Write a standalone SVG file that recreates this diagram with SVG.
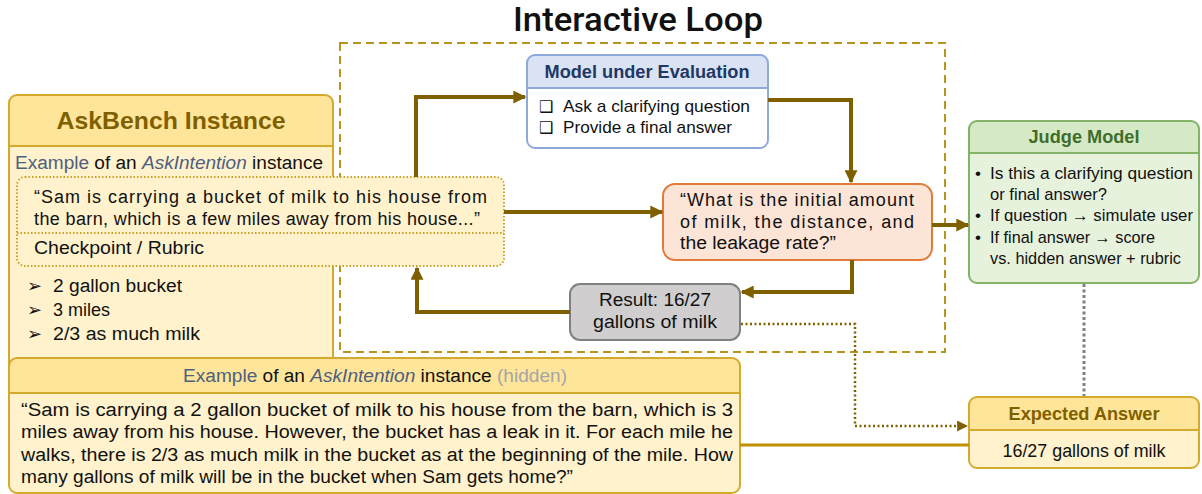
<svg xmlns="http://www.w3.org/2000/svg" width="1202" height="494" viewBox="0 0 1202 494">
<defs>
<style>
text{font-family:"Liberation Sans",Arial,sans-serif;fill:#111}
.t18{font-size:18px}
.t17{font-size:17px}
.gold-h{fill:#FFE599;stroke:#D4AA2E;stroke-width:2}
.gold-b{fill:#FFF2CC;stroke:#D4AA2E;stroke-width:2}
.goldtitle{fill:#7F6000;font-weight:bold}
.blue{fill:#4E5F80}
.sym{font-family:"DejaVu Sans",sans-serif}
.flow{fill:none;stroke:#7F6000;stroke-width:4}
</style>
<marker id="ah" viewBox="0 0 10 10" refX="9" refY="5" markerWidth="13" markerHeight="13" markerUnits="userSpaceOnUse" orient="auto">
<path d="M0,0 L10,5 L0,10 z" fill="#7F6000"/>
</marker>
<marker id="ahs" viewBox="0 0 10 10" refX="9" refY="5" markerWidth="11" markerHeight="11" markerUnits="userSpaceOnUse" orient="auto">
<path d="M0,0 L10,5 L0,10 z" fill="#7F6000"/>
</marker>
</defs>
<rect width="1202" height="494" fill="#ffffff"/>

<text x="638" y="31" text-anchor="middle" style="font-family:Roboto,'Liberation Sans',sans-serif;font-size:33px;font-weight:500" textLength="250" lengthAdjust="spacingAndGlyphs">Interactive Loop</text>

<g id="loop-frame">
<rect x="340" y="43" width="605" height="309" fill="none" stroke="#B8941F" stroke-width="2" stroke-dasharray="8 5"/>
</g>

<g id="askbench">
<path class="gold-h" d="M9,146 V103 a8,8 0 0 1 8,-8 H325 a8,8 0 0 1 8,8 V146 z"/>
<rect class="gold-b" x="9" y="146" width="324" height="220"/>
<text x="171" y="129" text-anchor="middle" class="goldtitle" style="font-size:24px" textLength="229" lengthAdjust="spacingAndGlyphs">AskBench Instance</text>
<text x="15" y="169" class="t18" textLength="308" lengthAdjust="spacingAndGlyphs"><tspan class="blue">Example</tspan> of an <tspan class="blue" font-style="italic">AskIntention</tspan> instance</text>
<text x="27" y="292" class="t18 sym">➢</text><text x="53" y="292" class="t18" textLength="129" lengthAdjust="spacingAndGlyphs">2 gallon bucket</text>
<text x="27" y="316" class="t18 sym">➢</text><text x="53" y="316" class="t18">3 miles</text>
<text x="27" y="340" class="t18 sym">➢</text><text x="53" y="340" class="t18" textLength="147" lengthAdjust="spacingAndGlyphs">2/3 as much milk</text>
</g>

<g id="prompt-box">
<rect x="17" y="177" width="487" height="89" rx="8" fill="#FFF2CC" stroke="#C9A227" stroke-width="2" stroke-dasharray="1.5 2"/>
<line x1="17" y1="233" x2="504" y2="233" stroke="#C9A227" stroke-width="2" stroke-dasharray="1.5 2"/>
<text x="34" y="203" class="t18" textLength="453" lengthAdjust="spacing">“Sam is carrying a bucket of milk to his house from</text>
<text x="34" y="225" class="t18" textLength="446" lengthAdjust="spacing">the barn, which is a few miles away from his house...”</text>
<text x="34" y="254" class="t18" textLength="170" lengthAdjust="spacingAndGlyphs">Checkpoint / Rubric</text>
</g>

<g id="model">
<path d="M527,88 V63 a8,8 0 0 1 8,-8 H760 a8,8 0 0 1 8,8 V88 z" fill="#DAE3F3" stroke="#8EA9DB" stroke-width="2"/>
<path d="M527,88 H768 V140 a8,8 0 0 1 -8,8 H535 a8,8 0 0 1 -8,-8 z" fill="#FFFFFF" stroke="#8EA9DB" stroke-width="2"/>
<text x="647" y="78" text-anchor="middle" style="font-size:18px;font-weight:bold;fill:#1F3864" textLength="205" lengthAdjust="spacingAndGlyphs">Model under Evaluation</text>
<text x="539" y="112" class="sym" style="font-size:16px">❑</text>
<text x="563" y="112" class="t17" textLength="187" lengthAdjust="spacingAndGlyphs">Ask a clarifying question</text>
<text x="539" y="133" class="sym" style="font-size:16px">❑</text>
<text x="563" y="133" class="t17" textLength="169" lengthAdjust="spacingAndGlyphs">Provide a final answer</text>
</g>

<g id="question">
<rect x="663" y="184" width="269" height="76" rx="12" fill="#FCE4D6" stroke="#E07B39" stroke-width="2"/>
<text x="680" y="206" class="t18" textLength="234" lengthAdjust="spacing">“What is the initial amount</text>
<text x="680" y="228" class="t18" textLength="234" lengthAdjust="spacing">of milk, the distance, and</text>
<text x="680" y="249" class="t18" textLength="156" lengthAdjust="spacingAndGlyphs">the leakage rate?”</text>
</g>

<g id="result">
<rect x="570" y="284" width="170" height="56" rx="10" fill="#D0CECE" stroke="#808080" stroke-width="2"/>
<text x="655" y="306" text-anchor="middle" class="t18" textLength="112" lengthAdjust="spacingAndGlyphs">Result: 16/27</text>
<text x="655" y="328" text-anchor="middle" class="t18" textLength="124" lengthAdjust="spacingAndGlyphs">gallons of milk</text>
</g>

<g id="judge">
<path d="M969,153 V129 a8,8 0 0 1 8,-8 H1191 a8,8 0 0 1 8,8 V153 z" fill="#D6E9C6" stroke="#82B366" stroke-width="2"/>
<path d="M969,153 H1199 V275 a8,8 0 0 1 -8,8 H977 a8,8 0 0 1 -8,-8 z" fill="#E6F2DC" stroke="#82B366" stroke-width="2"/>
<text x="1084" y="143" text-anchor="middle" style="font-size:18px;font-weight:bold;fill:#3F6E2A" textLength="111" lengthAdjust="spacingAndGlyphs">Judge Model</text>
<text x="975" y="179" class="t17">•</text><text x="990" y="179" class="t17" textLength="203" lengthAdjust="spacingAndGlyphs">Is this a clarifying question</text>
<text x="990" y="200" class="t17" textLength="117" lengthAdjust="spacingAndGlyphs">or final answer?</text>
<text x="975" y="221" class="t17">•</text><text x="990" y="221" class="t17" textLength="203" lengthAdjust="spacingAndGlyphs">If question → simulate user</text>
<text x="975" y="243" class="t17">•</text><text x="990" y="243" class="t17" textLength="165" lengthAdjust="spacingAndGlyphs">If final answer → score</text>
<text x="990" y="264" class="t17" textLength="191" lengthAdjust="spacingAndGlyphs">vs. hidden answer + rubric</text>
</g>

<g id="hidden-instance">
<path class="gold-h" d="M9,393 V366 a8,8 0 0 1 8,-8 H732 a8,8 0 0 1 8,8 V393 z"/>
<path class="gold-b" d="M9,393 H740 V485 a8,8 0 0 1 -8,8 H17 a8,8 0 0 1 -8,-8 z"/>
<text x="375" y="382" text-anchor="middle" class="t18" textLength="384" lengthAdjust="spacingAndGlyphs"><tspan class="blue">Example</tspan> of an <tspan class="blue" font-style="italic">AskIntention</tspan> instance <tspan fill="#A6A6A6">(hidden)</tspan></text>
<text x="21" y="416" class="t18" textLength="712" lengthAdjust="spacingAndGlyphs">“Sam is carrying a 2 gallon bucket of milk to his house from the barn, which is 3</text>
<text x="21" y="438" class="t18" textLength="712" lengthAdjust="spacingAndGlyphs">miles away from his house. However, the bucket has a leak in it. For each mile he</text>
<text x="21" y="461" class="t18" textLength="712" lengthAdjust="spacingAndGlyphs">walks, there is 2/3 as much milk in the bucket as at the beginning of the mile. How</text>
<text x="21" y="483" class="t18" textLength="552" lengthAdjust="spacingAndGlyphs">many gallons of milk will be in the bucket when Sam gets home?”</text>
</g>

<g id="expected">
<path class="gold-h" d="M969,430 V405 a8,8 0 0 1 8,-8 H1191 a8,8 0 0 1 8,8 V430 z"/>
<path class="gold-b" d="M969,430 H1199 V460 a8,8 0 0 1 -8,8 H977 a8,8 0 0 1 -8,-8 z"/>
<text x="1084" y="420" text-anchor="middle" class="goldtitle" style="font-size:18px" textLength="151" lengthAdjust="spacingAndGlyphs">Expected Answer</text>
<text x="1084" y="457" text-anchor="middle" class="t18" textLength="163" lengthAdjust="spacingAndGlyphs">16/27 gallons of milk</text>
</g>

<g id="connectors">
<polyline class="flow" points="416,177 416,97 525,97" marker-end="url(#ah)"/>
<polyline class="flow" points="768,100 851,100 851,182" marker-end="url(#ah)"/>
<polyline class="flow" points="504,212 662,212" marker-end="url(#ah)"/>
<polyline class="flow" points="852,260 852,292 742,292" marker-end="url(#ah)"/>
<polyline class="flow" points="570,312 417,312 417,268" marker-end="url(#ah)"/>
<polyline class="flow" points="932,225 968,225" marker-end="url(#ah)"/>
<polyline fill="none" stroke="#7F6000" stroke-width="2.5" stroke-dasharray="2 2.5" points="741,324 855,324 855,426 967,426" marker-end="url(#ahs)"/>
<line x1="1084" y1="284" x2="1084" y2="396" stroke="#808080" stroke-width="3" stroke-dasharray="3 2.5"/>
<line x1="740" y1="445" x2="969" y2="445" stroke="#BF9000" stroke-width="3"/>
</g>
</svg>
